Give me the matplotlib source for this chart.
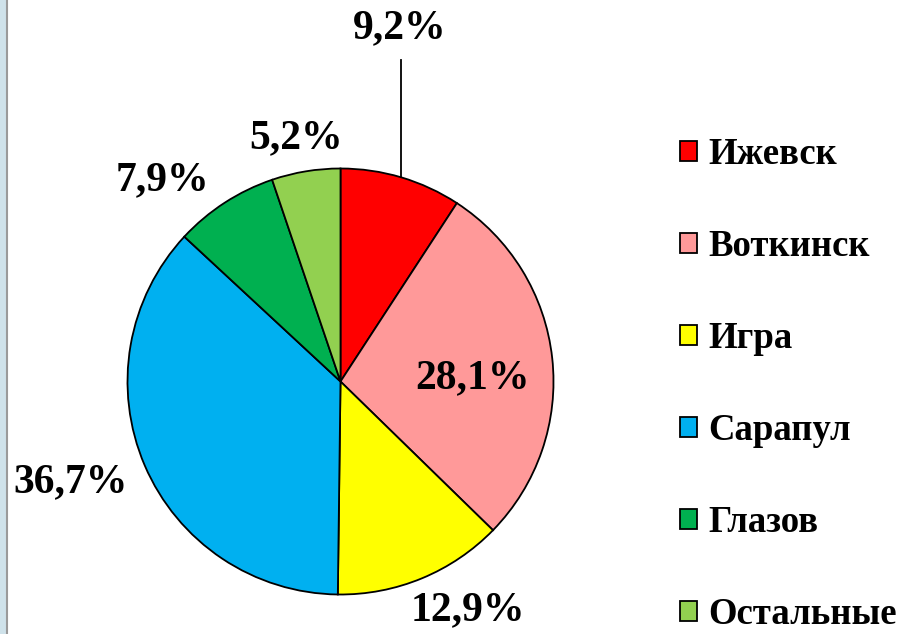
import matplotlib
matplotlib.use("Agg")
import matplotlib.pyplot as plt
import numpy as np
from matplotlib.patches import Patch, Rectangle

categories = ["Ижевск", "Воткинск", "Игра", "Сарапул", "Глазов", "Остальные"]
values = [9.2, 28.1, 12.9, 36.7, 7.9, 5.2]
labels = ["9,2%", "28,1%", "12,9%", "36,7%", "7,9%", "5,2%"]
colors = ["#ff0000", "#ff9999", "#ffff00", "#00b0f0", "#00b050", "#92d050"]
# label placement: (radius factor, angle in degrees)
label_pos = [(1.68, 80.4), (0.62, 1.5), (1.23, -61.0), (1.35, -159.6), (1.26, 131.5), (1.16, 100.4)]

plt.rcParams['font.family'] = ['Liberation Serif', 'DejaVu Serif']
W, H = 901, 634
fig = plt.figure(figsize=(W/100, H/100), dpi=100)
ax = fig.add_axes([0, 0, 1, 1])

cx, cy, R = 340.5, H - 381.5, 213
wedges, _ = ax.pie(values, colors=colors, startangle=90, counterclock=False,
                   center=(cx, cy), radius=R, frame=True,
                   wedgeprops=dict(edgecolor='black', linewidth=1.3))
ax.set_xlim(0, W)
ax.set_ylim(0, H)
ax.set_aspect('equal')
ax.axis('off')

fs = 30
for i, (lab, (rf, ang)) in enumerate(zip(labels, label_pos)):
    x = cx + rf * R * np.cos(np.radians(ang))
    y = cy + rf * R * np.sin(np.radians(ang))
    ax.text(x, y, lab, ha='center', va='center', fontsize=fs, fontweight='bold', color='black')

# leader line for first slice
w0 = wedges[0]
mid = np.radians((w0.theta1 + w0.theta2) / 2)
ex = cx + R * np.cos(mid)
ey = cy + R * np.sin(mid)
ax.plot([ex, ex], [ey, H - 60], color='black', lw=1.3)

handles = [Patch(facecolor=c, edgecolor='black', linewidth=1.3) for c in colors]
leg = ax.legend(handles, categories, loc='upper left', bbox_to_anchor=(680/W, 1 - 137/H),
                bbox_transform=fig.transFigure, frameon=False,
                prop=dict(family='Liberation Serif', weight='bold', size=26.5),
                handlelength=0.45, handleheight=0.45, handletextpad=0.32,
                labelspacing=1.55, borderpad=0, borderaxespad=0)

# left decorative border
fig.patches.append(Rectangle((0, 0), 6/W, 1, transform=fig.transFigure, facecolor='#cfe2ea', edgecolor='none'))
fig.lines.append(plt.Line2D([6.5/W, 6.5/W], [0, 1], transform=fig.transFigure, color='#9a9a9a', lw=1.5))

fig.savefig("out.png", dpi=100)
